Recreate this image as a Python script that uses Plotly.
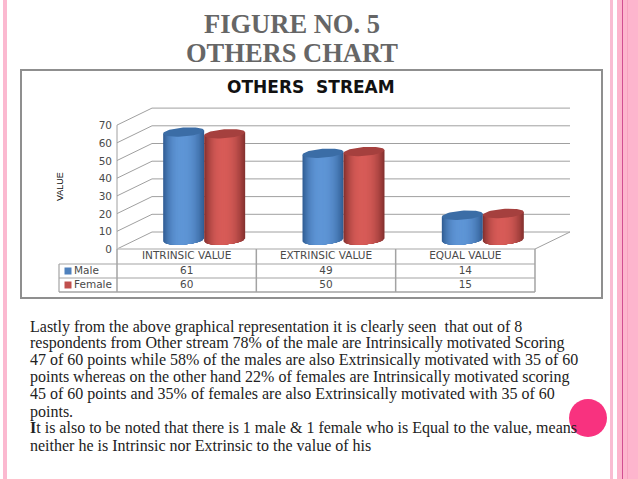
import plotly.graph_objects as go
import numpy as np

# Data
categories = ["INTRINSIC VALUE", "EXTRINSIC VALUE", "EQUAL VALUE"]
male = [61, 49, 14]
female = [60, 50, 15]
ticks = [0, 10, 20, 30, 40, 50, 60, 70]

body_lines = [
    "Lastly from the above graphical representation it is clearly seen  that out of 8",
    "respondents from Other stream 78% of the male are Intrinsically motivated Scoring",
    "47 of 60 points while 58% of the males are also Extrinsically motivated with 35 of 60",
    "points whereas on the other hand 22% of females are Intrinsically motivated scoring",
    "45 of 60 points and 35% of females are also Extrinsically motivated with 35 of 60",
    "points.",
    "<b>I</b>t is also to be noted that there is 1 male &amp; 1 female who is Equal to the value, means",
    "neither he is Intrinsic nor Extrinsic to the value of his",
]
body_y = [327, 343, 360, 377, 394, 412, 428, 445]

W, H = 638, 479

# the whole page is one pair of axes: x unit = one category, y unit = one value point
X0, Y0 = 117, 249
UX, UY = 139.33, 1.77
def xd(px): return (px - X0) / UX
def yd(py): return (Y0 - py) / UY

DEPTH_X, DEPTH_Y = xd(152), yd(232)   # back wall offset

GRID = "#a0a0a0"
TXT = "#4a4a4a"
TICK_FONT = dict(family="DejaVu Sans", size=10.5, color=TXT)

fig = go.Figure()

def line(xs, ys, color=GRID, width=1):
    fig.add_trace(go.Scatter(x=xs, y=ys, mode="lines", line=dict(color=color, width=width),
                             hoverinfo="skip", showlegend=False))

# walls
for t in ticks:
    line([0, DEPTH_X, 3 + DEPTH_X], [t, t + DEPTH_Y, t + DEPTH_Y])
line([0, 0], [0, ticks[-1]])
line([3, 3 + DEPTH_X], [0, DEPTH_Y])
fig.add_trace(go.Scatter(x=[xd(112)] * len(ticks), y=[t - 1.5 / UY for t in ticks], mode="text",
                         text=[str(t) for t in ticks], textposition="middle left",
                         textfont=TICK_FONT, showlegend=False))

# cylinders, painted as nested bands from the dark rim to the bright core
def cylinder(values, side, base, dark, top_color):
    r = 20.5 / UX
    b = 4.5 / UY
    tilt = 1.5 / UY
    lift = (Y0 - 240) / UY
    peak = -0.1
    for s in np.linspace(0, 1, 18):
        left = -1 + (peak + 1) * s
        right = 1 + (peak - 1) * s
        k = (1 - s) ** 2.4
        col = np.array(base) * (1 - k) + np.array(dark) * k
        u = np.linspace(left, right, 20)
        xs, ys = [], []
        for j, v in enumerate(values):
            cx = j + 0.5 + DEPTH_X / 2 + side * r
            xs += list(cx + r * u) + [cx + r * right, cx + r * left, cx + r * left, None]
            ys += list(lift - b * np.sqrt(1 - u * u) + tilt * u)
            ys += [v + lift + tilt * right, v + lift + tilt * left, lift - b * np.sqrt(1 - left * left) + tilt * left, None]
        fig.add_trace(go.Scatter(x=xs, y=ys, mode="lines", fill="toself", line=dict(width=0),
                                 fillcolor="rgb(%d,%d,%d)" % tuple(col),
                                 hoverinfo="skip", showlegend=False))
    t = np.linspace(0, 2 * np.pi, 60)
    for j, v in enumerate(values):
        fig.add_trace(go.Scatter(x=j + 0.5 + DEPTH_X / 2 + side * r + r * np.cos(t),
                                 y=v + lift + b * np.sin(t) + tilt * np.cos(t),
                                 mode="lines", fill="toself", fillcolor=top_color, line=dict(width=0),
                                 hoverinfo="skip", showlegend=False))

cylinder(male, -1, (95, 150, 215), (50, 95, 150), "#3b6da6")
cylinder(female, 1, (216, 92, 88), (135, 50, 48), "#a5403e")

# data table
row_y = [yd(249), yd(264), yd(278), yd(292)]
LEFT = xd(59)
TBL = "#a3a3a3"
line([0, 3], [row_y[0], row_y[0]], "#c4c4c4", 1.5)
line([LEFT, 3], [row_y[1], row_y[1]], TBL, 1.2)
line([LEFT, 3], [row_y[2], row_y[2]], TBL, 1.2)
line([LEFT, 3], [row_y[3], row_y[3]], TBL, 1.5)
line([LEFT, LEFT], [row_y[1], row_y[3]], TBL, 1.2)
for j in range(4):
    line([j, j], [row_y[0], row_y[3]], TBL, 1.5)

centers = [j + 0.5 for j in range(3)]
for vals, a, b_ in [(categories, 0, 1), (male, 1, 2), (female, 2, 3)]:
    fig.add_trace(go.Scatter(x=centers, y=[(row_y[a] + row_y[b_]) / 2] * 3, mode="text",
                             text=[str(v) for v in vals], textposition="middle center",
                             textfont=TICK_FONT, showlegend=False))
for name, color, a, b_ in [("Male", "#4f81bd", 1, 2), ("Female", "#c0504d", 2, 3)]:
    ym = (row_y[a] + row_y[b_]) / 2
    fig.add_trace(go.Scatter(x=[xd(68)], y=[ym], mode="markers",
                             marker=dict(symbol="square", size=7, color=color), showlegend=False))
    fig.add_trace(go.Scatter(x=[xd(74)], y=[ym], mode="text", text=[name], textposition="middle right",
                             textfont=TICK_FONT, showlegend=False))

# slide decoration
def rect(x0, x1, y0, y1, fill, line_color=None, lw=0):
    fig.add_shape(type="rect", xref="paper", yref="paper", x0=x0 / W, x1=x1 / W, y0=1 - y0 / H, y1=1 - y1 / H,
                  fillcolor=fill, line=dict(color=line_color, width=lw), layer="below")

rect(3, 7, 0, H, "#fbb9d0")
rect(610, 613, 0, H, "#f9bcd2")
rect(617, W, 0, H, "#fdb5cd")
rect(622, 623, 0, H, "#d24f92")
rect(627, 628, 0, H, "#f7a3c0")
rect(21, 602, 70, 298, "white", "#8f8f8f", 2)
fig.add_shape(type="circle", xref="paper", yref="paper", x0=569 / W, x1=607 / W, y0=1 - 399 / H, y1=1 - 437 / H,
              fillcolor="#f8327f", line_width=0, layer="below")

# texts
def label(text, px, py, size, color, family, anchor="left", angle=0):
    fig.add_annotation(text=text, xref="paper", yref="paper", x=px / W, y=1 - py / H, showarrow=False,
                       xanchor=anchor, yanchor="middle", textangle=angle,
                       font=dict(family=family, size=size, color=color))

label("<b>FIGURE NO. 5</b>", 292, 24, 26.5, "#666666", "Liberation Serif", "center")
label("<b>OTHERS CHART</b>", 292, 53, 26.5, "#666666", "Liberation Serif", "center")
label("<b>OTHERS  STREAM</b>", 310.5, 87, 17, "#111111", "DejaVu Sans", "center")
label("VALUE", 60, 187, 9, "#111111", "Liberation Sans", "center", -90)
for txt, py in zip(body_lines, body_y):
    label(txt, 28, py, 16, "#222222", "Liberation Serif")

fig.update_layout(
    width=W, height=H, margin=dict(l=0, r=0, t=0, b=0),
    paper_bgcolor="white", plot_bgcolor="rgba(0,0,0,0)",
    showlegend=False, hovermode=False,
    xaxis=dict(visible=False, range=[xd(0), xd(W)], fixedrange=True),
    yaxis=dict(visible=False, range=[yd(H), yd(0)], fixedrange=True),
)

fig.write_html("out.html", config=dict(displayModeBar=False),
               post_script="document.body.style.margin='0';")
